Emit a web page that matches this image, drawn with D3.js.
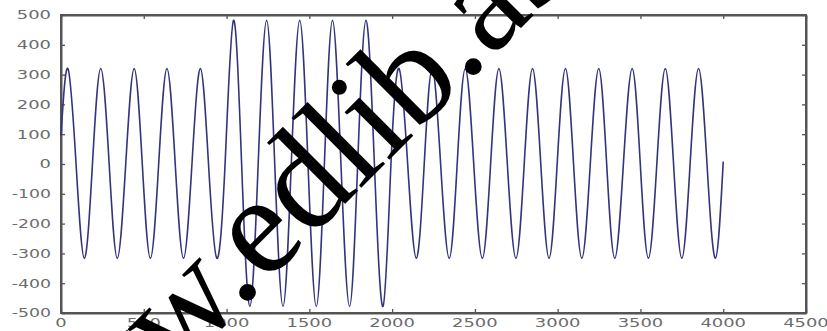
<!DOCTYPE html>
<html>
<head>
<meta charset="utf-8">
<script src="https://cdn.jsdelivr.net/npm/d3@7"></script>
<style>
  html, body { margin: 0; padding: 0; background: #fff; }
  svg { display: block; }
</style>
</head>
<body>
<svg id="chart" width="827" height="331"></svg>
<script>
// ---- data ----
const xTickValues = [0, 500, 1000, 1500, 2000, 2500, 3000, 3500, 4000, 4500];
const yTickValues = [-500, -400, -300, -200, -100, 0, 100, 200, 300, 400, 500];

const waveT = [
  0,    42,   91,   141,  190,  240,  291,  340,  391,  442,
  491,  540,  590,  640,  690,  740,  791,  842,  891,  941,
  991,  1042, 1091, 1141, 1191, 1242, 1291, 1341, 1391, 1442,
  1492, 1542, 1591, 1640, 1691, 1743, 1792, 1842, 1893, 1945,
  1993, 2042, 2094, 2146, 2194, 2242, 2293, 2345, 2393, 2442,
  2493, 2545, 2595, 2645, 2696, 2748, 2798, 2848, 2898, 2948,
  2997, 3047, 3096, 3146, 3197, 3248, 3296, 3345, 3397, 3450,
  3499, 3548, 3599, 3650, 3700, 3750, 3800, 3851, 3902, 3953,
  4000
];
const waveV = [
  95,   320,  0,    -316, 0,    320,  0,    -316, 0,    320,
  0,    -316, 0,    320,  0,    -316, 0,    320,  0,    -316,
  0,    482,  0,    -478, 0,    482,  0,    -478, 0,    482,
  0,    -478, 0,    482,  0,    -478, 0,    482,  0,    -478,
  0,    320,  0,    -316, 0,    320,  0,    -316, 0,    320,
  0,    -316, 0,    320,  0,    -316, 0,    320,  0,    -316,
  0,    320,  0,    -316, 0,    320,  0,    -316, 0,    320,
  0,    -316, 0,    320,  0,    -316, 0,    320,  0,    -316,
  8
];
const watermarkText = "www.edlib.asu.edu.eg";

// ---- layout ----
const plot = { left: 61, right: 806, top: 15, bottom: 313 };

const svg = d3.select("#chart");

const x = d3.scaleLinear().domain([0, 4500]).range([plot.left, plot.right]);
const y = d3.scaleLinear().domain([-500, 500]).range([plot.bottom, plot.top]);

// frame (plain rect)
svg.append("rect")
  .attr("x", plot.left)
  .attr("y", plot.top)
  .attr("width", plot.right - plot.left)
  .attr("height", plot.bottom - plot.top)
  .attr("fill", "none")
  .attr("stroke", "#555555")
  .attr("stroke-width", 2);

// axes via d3 (inward ticks on all sides)
const tickLen = 4;
function styleAxis(g) {
  g.select(".domain").attr("stroke", "#555555").attr("stroke-width", 2);
  g.selectAll(".tick line").attr("stroke", "#555555").attr("stroke-width", 1.3);
  g.selectAll(".tick text").remove();
}
svg.append("g").attr("class", "axis-bottom")
  .attr("transform", `translate(0,${plot.bottom})`)
  .call(d3.axisTop(x).tickValues(xTickValues).tickSize(tickLen).tickSizeOuter(0))
  .call(styleAxis);
svg.append("g").attr("class", "axis-top")
  .attr("transform", `translate(0,${plot.top})`)
  .call(d3.axisBottom(x).tickValues(xTickValues).tickSize(tickLen).tickSizeOuter(0))
  .call(styleAxis);
svg.append("g").attr("class", "axis-left")
  .attr("transform", `translate(${plot.left},0)`)
  .call(d3.axisRight(y).tickValues(yTickValues).tickSize(tickLen).tickSizeOuter(0))
  .call(styleAxis);
svg.append("g").attr("class", "axis-right")
  .attr("transform", `translate(${plot.right},0)`)
  .call(d3.axisLeft(y).tickValues(yTickValues).tickSize(tickLen).tickSizeOuter(0))
  .call(styleAxis);

// waveform
const pts = waveT.map((t, i) => [t, waveV[i]]);
const line = d3.line()
  .x(d => x(d[0]))
  .y(d => y(d[1]))
  .curve(d3.curveNatural);

svg.append("path")
  .datum(pts)
  .attr("d", line)
  .attr("fill", "none")
  .attr("stroke", "#34347e")
  .attr("stroke-width", 1.6)
  .attr("stroke-linejoin", "round");

// tick labels (wide, greyish, like the blurred original)
const labelFont = "DejaVu Sans, sans-serif";
function labelWidth(s) {
  let w = 0;
  for (const c of s) w += (c === "-") ? 5 : 11.4;
  return w;
}

svg.append("g").selectAll("text")
  .data(xTickValues).join("text")
  .attr("x", d => x(d))
  .attr("y", 326.5)
  .attr("text-anchor", "middle")
  .attr("font-family", labelFont)
  .attr("font-size", 12)
  .attr("fill", "#6c6c6c")
  .attr("textLength", d => labelWidth(String(d)))
  .attr("lengthAdjust", "spacingAndGlyphs")
  .text(d => String(d));

svg.append("g").selectAll("text")
  .data(yTickValues).join("text")
  .attr("x", 51)
  .attr("y", d => y(d) + 4.4)
  .attr("text-anchor", "end")
  .attr("font-family", labelFont)
  .attr("font-size", 12)
  .attr("fill", "#6c6c6c")
  .attr("textLength", d => labelWidth(String(d)))
  .attr("lengthAdjust", "spacingAndGlyphs")
  .text(d => String(d));

// watermark overlaying the figure
const wmSize = 142;
const tmp = svg.append("text")
  .attr("font-family", "Liberation Serif, serif")
  .attr("font-size", wmSize)
  .text("www");
const wwwWidth = tmp.node().getComputedTextLength();
tmp.remove();

svg.append("g")
  .attr("transform", "translate(246,303) rotate(-45)")
  .append("text")
  .attr("x", -wwwWidth)
  .attr("y", 0)
  .attr("font-family", "Liberation Serif, serif")
  .attr("font-size", wmSize)
  .attr("fill", "#000")
  .text(watermarkText);
</script>
</body>
</html>
